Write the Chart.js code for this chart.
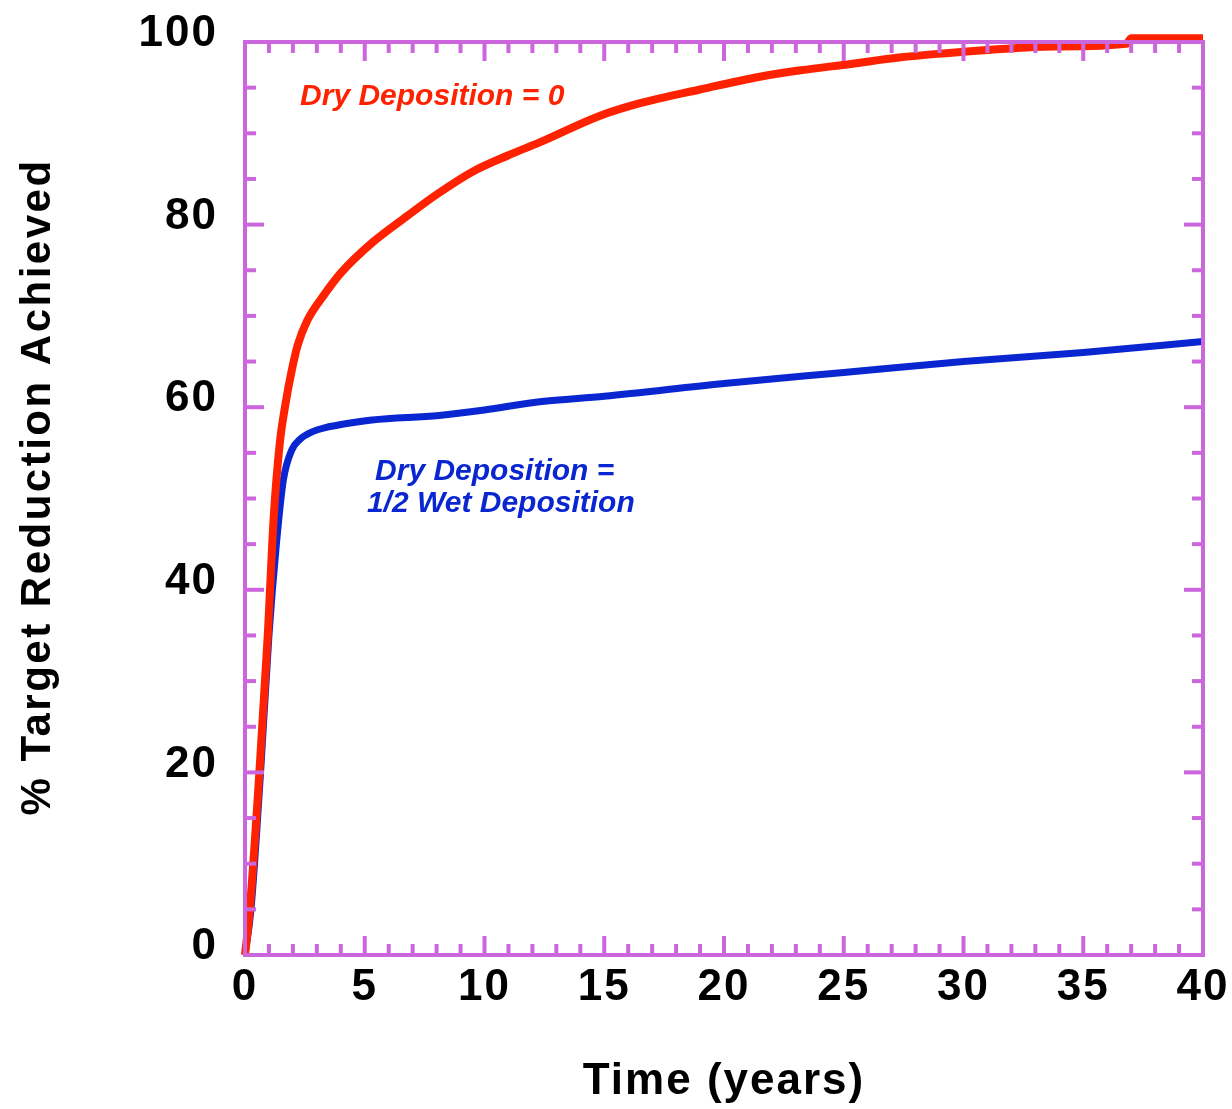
<!DOCTYPE html>
<html>
<head>
<meta charset="utf-8">
<script src="https://cdn.jsdelivr.net/npm/chart.js@4/dist/chart.umd.min.js"></script>
<style>
  html, body { margin: 0; padding: 0; background: #ffffff; }
  #wrap { width: 1232px; height: 1109px; }
</style>
</head>
<body>
<div id="wrap"><canvas id="c" width="1232" height="1109"></canvas></div>
<script>
// ---- data ----
const redYears = [0, 0.2, 0.6, 0.95, 1.2, 1.45, 1.7, 1.95, 2.2, 2.6, 3.3, 4, 5.3, 6.8, 8, 9.5, 11, 12.3, 14.8, 16.5, 19, 21.5, 23.2, 25.3, 27.3, 29.4, 31.4, 33.7, 36.8, 37.0, 40];
const redPct   = [0, 5, 20, 35, 48, 56, 60.5, 64, 66.8, 69.5, 72.3, 74.7, 78, 81, 83.3, 85.8, 87.6, 89.0, 91.9, 93.3, 94.8, 96.2, 96.9, 97.6, 98.3, 98.8, 99.2, 99.5, 99.8, 100.4, 100.4];
const blueYears = [0, 0.25, 0.65, 1.0, 1.3, 1.6, 1.95, 2.3, 2.8, 3.4, 4, 5.3, 8.1, 10, 12.3, 15, 20, 25, 30, 35, 40];
const bluePct   = [0, 5, 20, 35, 44.7, 52, 55.3, 56.5, 57.3, 57.8, 58.1, 58.6, 59.1, 59.7, 60.6, 61.2, 62.6, 63.8, 65, 66, 67.2];
const seriesNames = ['Dry Deposition = 0', 'Dry Deposition = 1/2 Wet Deposition'];
const xTitle = 'Time (years)';
const yTitle = '% Target Reduction Achieved';
const redLabelLines = ['Dry Deposition = 0'];
const blueLabelLines = ['Dry Deposition =', '1/2 Wet Deposition'];
const xMajorStep = 5, xMinorStep = 1, yMajorStep = 20, yMinorStep = 5;

const PURPLE = '#cc66dd';
const RED = '#ff2200';
const BLUE = '#0a26d0';
const FONT = '"Liberation Sans", Arial, sans-serif';

const toXY = (xs, ys) => xs.map((v, i) => ({ x: v, y: ys[i] }));

const spacingPlugin = {
  id: 'spacing',
  beforeDraw(chart) { chart.ctx.letterSpacing = '2px'; },
  afterDraw(chart) { chart.ctx.letterSpacing = '0px'; }
};

const framePlugin = {
  id: 'frame',
  afterDatasetsDraw(chart) {
    const { ctx, chartArea: { left, right, top, bottom }, scales: { x, y } } = chart;
    ctx.save();
    ctx.strokeStyle = PURPLE;
    ctx.lineWidth = 4;
    ctx.lineCap = 'butt';
    ctx.strokeRect(left, top, right - left, bottom - top);
    const seg = (x1, y1, x2, y2) => { ctx.beginPath(); ctx.moveTo(x1, y1); ctx.lineTo(x2, y2); ctx.stroke(); };
    for (let v = x.min; v <= x.max + 1e-9; v += xMinorStep) {
      const px = x.getPixelForValue(v);
      const len = (Math.abs(v % xMajorStep) < 1e-9) ? 19 : 11;
      seg(px, bottom, px, bottom - len);
      seg(px, top, px, top + len);
    }
    for (let v = y.min; v <= y.max + 1e-9; v += yMinorStep) {
      const py = y.getPixelForValue(v);
      const len = (Math.abs(v % yMajorStep) < 1e-9) ? 19 : 11;
      seg(left, py, left + len, py);
      seg(right, py, right - len, py);
    }
    ctx.restore();
  }
};

const labelPlugin = {
  id: 'seriesLabels',
  afterDraw(chart) {
    const { ctx, scales: { x, y } } = chart;
    ctx.save();
    ctx.letterSpacing = '0px';
    ctx.font = 'italic bold 30px ' + FONT;
    ctx.textBaseline = 'middle';
    ctx.textAlign = 'left';
    ctx.fillStyle = RED;
    ctx.fillText(redLabelLines[0], x.getPixelForValue(2.3), y.getPixelForValue(94.0), 270);
    ctx.fillStyle = BLUE;
    ctx.fillText(blueLabelLines[0], x.getPixelForValue(5.43), y.getPixelForValue(52.9), 240);
    ctx.fillText(blueLabelLines[1], x.getPixelForValue(5.09), y.getPixelForValue(49.4), 273);
    // y-axis title
    ctx.fillStyle = '#000';
    ctx.font = 'bold 42px ' + FONT;
    ctx.letterSpacing = '2.5px';
    ctx.textAlign = 'center';
    ctx.translate(38, 487);
    ctx.rotate(-Math.PI / 2);
    ctx.fillText(yTitle, 0, 0);
    ctx.restore();
  }
};

new Chart(document.getElementById('c'), {
  type: 'line',
  data: {
    datasets: [
      {
        label: seriesNames[1],
        data: toXY(blueYears, bluePct),
        borderColor: BLUE,
        borderWidth: 7,
        pointRadius: 0,
        cubicInterpolationMode: 'monotone',
        fill: false,
        order: 2
      },
      {
        label: seriesNames[0],
        data: toXY(redYears, redPct),
        borderColor: RED,
        borderWidth: 8,
        pointRadius: 0,
        cubicInterpolationMode: 'monotone',
        fill: false,
        clip: false,
        order: 1
      }
    ]
  },
  options: {
    responsive: false,
    animation: false,
    events: [],
    layout: { autoPadding: false, padding: { left: 0, right: 29, top: 42, bottom: 0 } },
    plugins: { legend: { display: false }, tooltip: { enabled: false } },
    scales: {
      x: {
        type: 'linear',
        min: 0, max: 40,
        grid: { display: false, drawTicks: false },
        border: { display: false },
        ticks: {
          stepSize: xMajorStep,
          color: '#000',
          padding: 6,
          maxRotation: 0,
          font: { family: FONT, size: 44, weight: 'bold' }
        },
        title: {
          display: true,
          text: xTitle,
          color: '#000',
          padding: { top: 0, bottom: 1 },
          font: { family: FONT, size: 44, weight: 'bold' }
        },
        afterFit(scale) { scale.height = 154; scale.paddingLeft = 0; scale.paddingRight = 0; }
      },
      y: {
        type: 'linear',
        min: 0, max: 100,
        grid: { display: false, drawTicks: false },
        border: { display: false },
        ticks: {
          stepSize: yMajorStep,
          color: '#000',
          padding: 27,
          labelOffset: -8,
          font: { family: FONT, size: 44, weight: 'bold' }
        },
        title: { display: false, text: yTitle },
        afterFit(scale) { scale.width = 245; scale.paddingTop = 0; scale.paddingBottom = 0; }
      }
    }
  },
  plugins: [spacingPlugin, framePlugin, labelPlugin]
});
</script>
</body>
</html>
